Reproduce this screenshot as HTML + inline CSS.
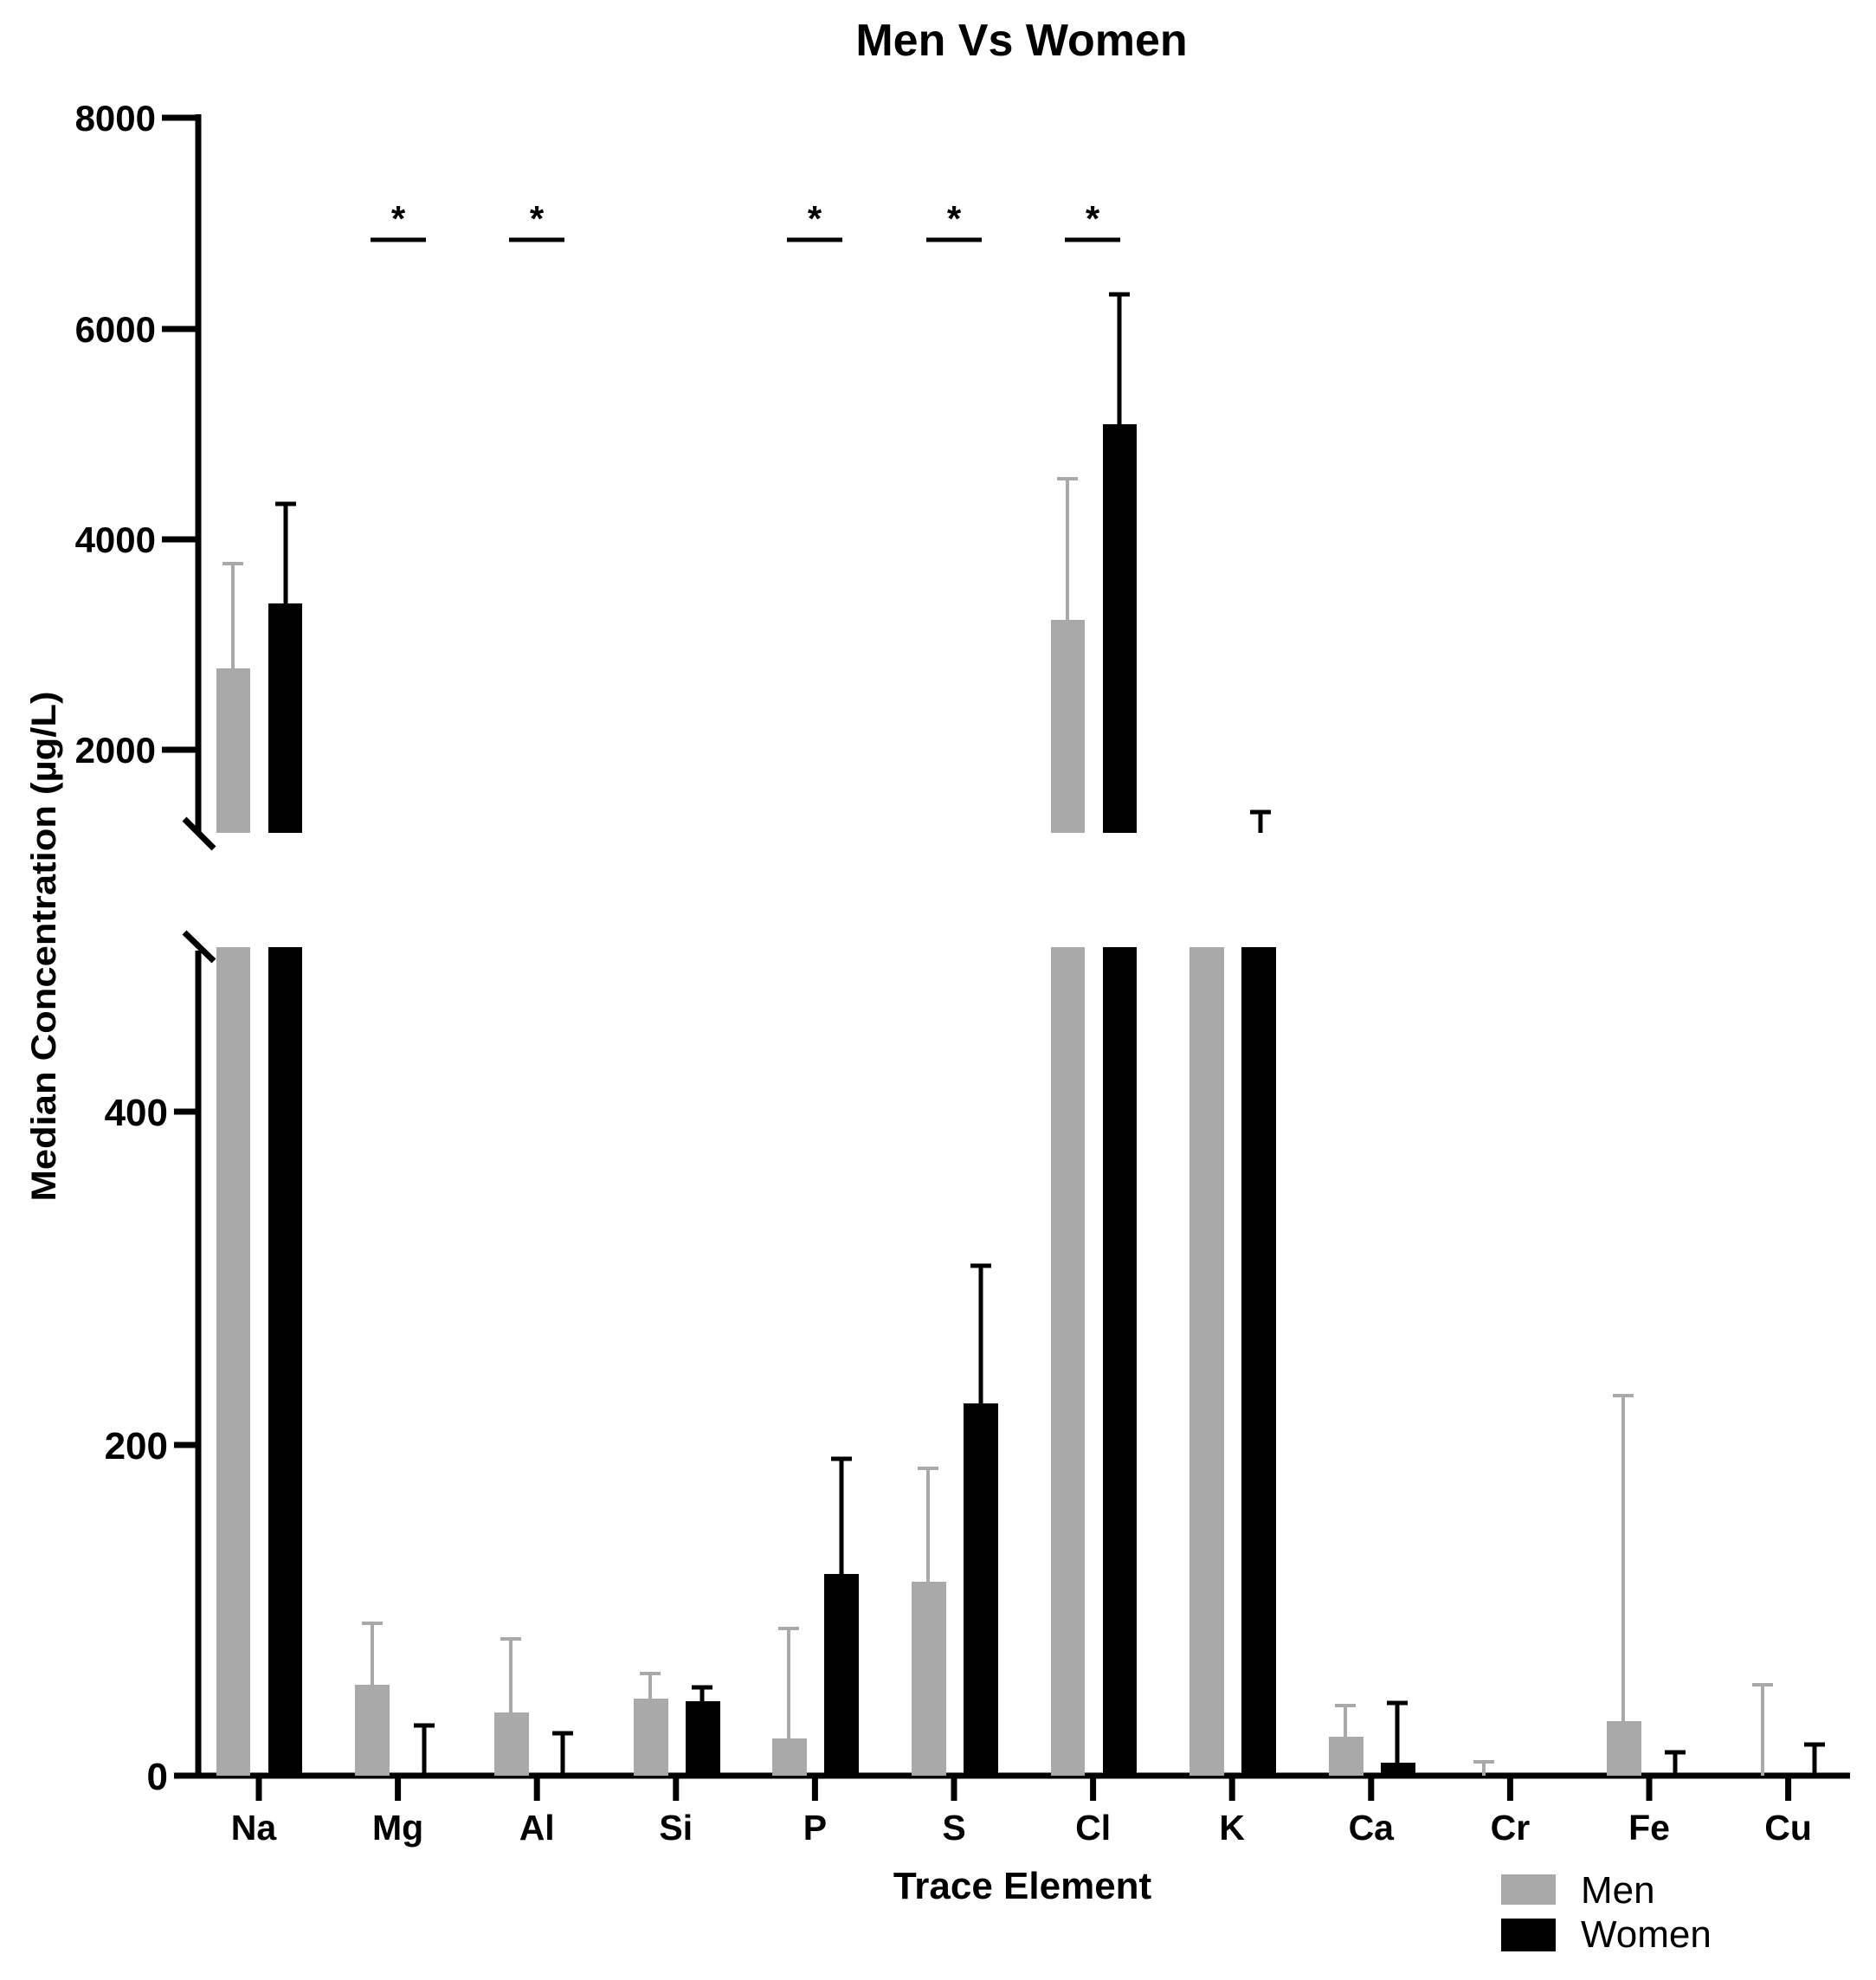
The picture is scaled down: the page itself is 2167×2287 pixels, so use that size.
<!DOCTYPE html>
<html><head><meta charset="utf-8"><style>html,body{margin:0;padding:0;background:#fff}svg{display:block}</style></head>
<body>
<svg width="2167" height="2287" viewBox="0 0 2167 2287" xmlns="http://www.w3.org/2000/svg" font-family="Liberation Sans, Arial, sans-serif">
<rect width="2167" height="2287" fill="#fff"/>
<text x="1180" y="64" font-size="52" font-weight="bold" text-anchor="middle">Men Vs Women</text>
<text transform="translate(64,1093) rotate(-90)" font-size="40" font-weight="bold" text-anchor="middle" textLength="589" lengthAdjust="spacingAndGlyphs">Median Concentration (µg/L)</text>
<g stroke="#000" stroke-width="7" fill="none">
<line x1="229" y1="132" x2="229" y2="963"/>
<line x1="229" y1="1098" x2="229" y2="2054"/>
<line x1="187" y1="136" x2="232" y2="136"/>
<line x1="187" y1="380" x2="229" y2="380"/>
<line x1="187" y1="623" x2="229" y2="623"/>
<line x1="187" y1="866" x2="229" y2="866"/>
<line x1="201" y1="1284" x2="229" y2="1284"/>
<line x1="201" y1="1669" x2="229" y2="1669"/>
<line x1="201" y1="2051" x2="2137" y2="2051"/>
<line x1="213" y1="946" x2="247" y2="980"/>
<line x1="213" y1="1077" x2="247" y2="1110"/>
</g>
<g font-size="42" font-weight="bold" text-anchor="end">
<text x="180" y="151">8000</text>
<text x="180" y="395">6000</text>
<text x="180" y="638">4000</text>
<text x="180" y="881">2000</text>
</g>
<g font-size="44" font-weight="bold" text-anchor="end">
<text x="194" y="1300">400</text>
<text x="194" y="1685">200</text>
<text x="194" y="2067">0</text>
</g>
<g stroke="#000" stroke-width="7">
<line x1="299" y1="2051" x2="299" y2="2080"/><line x1="459.6" y1="2051" x2="459.6" y2="2080"/><line x1="620.2" y1="2051" x2="620.2" y2="2080"/><line x1="780.8" y1="2051" x2="780.8" y2="2080"/><line x1="941.4" y1="2051" x2="941.4" y2="2080"/><line x1="1102" y1="2051" x2="1102" y2="2080"/><line x1="1262.6" y1="2051" x2="1262.6" y2="2080"/><line x1="1423.2" y1="2051" x2="1423.2" y2="2080"/><line x1="1583.8" y1="2051" x2="1583.8" y2="2080"/><line x1="1744.4" y1="2051" x2="1744.4" y2="2080"/><line x1="1905" y1="2051" x2="1905" y2="2080"/><line x1="2065.6" y1="2051" x2="2065.6" y2="2080"/>
</g>
<g font-size="41" font-weight="bold" text-anchor="middle">
<text x="293" y="2125">Na</text><text x="459.6" y="2125">Mg</text><text x="620.2" y="2125">Al</text><text x="780.8" y="2125">Si</text><text x="941.4" y="2125">P</text><text x="1102" y="2125">S</text><text x="1262.6" y="2125">Cl</text><text x="1423.2" y="2125">K</text><text x="1583.8" y="2125">Ca</text><text x="1744.4" y="2125">Cr</text><text x="1905" y="2125">Fe</text><text x="2065.6" y="2125">Cu</text>
</g>
<text x="1181" y="2193" font-size="44" font-weight="bold" text-anchor="middle">Trace Element</text>
<rect x="1734" y="2165" width="63" height="35" fill="#a9a9a9"/>
<rect x="1734" y="2216" width="63" height="38" fill="#000"/>
<text x="1826" y="2198" font-size="44">Men</text>
<text x="1826" y="2249" font-size="44">Women</text>
<g stroke="#000" stroke-width="5"><line x1="428" y1="277" x2="492" y2="277"/><line x1="588" y1="277" x2="652" y2="277"/><line x1="909" y1="277" x2="973" y2="277"/><line x1="1070" y1="277" x2="1134" y2="277"/><line x1="1230" y1="277" x2="1294" y2="277"/></g>
<g font-size="42" font-weight="bold" text-anchor="middle"><text x="460" y="267">*</text><text x="620" y="267">*</text><text x="941" y="267">*</text><text x="1102" y="267">*</text><text x="1262" y="267">*</text></g>
<g fill="#a9a9a9"><rect x="250" y="772" width="39" height="190"/><rect x="1214" y="716" width="39" height="246"/></g>
<g fill="#000"><rect x="310" y="697" width="39" height="265"/><rect x="1274" y="490" width="39" height="472"/></g>
<g stroke="#a9a9a9" stroke-width="4"><line x1="269" y1="651" x2="269" y2="772"/><line x1="257" y1="651" x2="281" y2="651"/><line x1="1233" y1="553" x2="1233" y2="716"/><line x1="1221" y1="553" x2="1245" y2="553"/></g>
<g stroke="#000" stroke-width="5"><line x1="330" y1="582" x2="330" y2="697"/><line x1="318" y1="582" x2="342" y2="582"/><line x1="1293" y1="340" x2="1293" y2="490"/><line x1="1281" y1="340" x2="1305" y2="340"/><line x1="1456" y1="938" x2="1456" y2="962"/><line x1="1444" y1="938" x2="1468" y2="938"/></g>
<g fill="#a9a9a9">
<rect x="250" y="1094" width="39" height="957"/>
<rect x="410" y="1946" width="40" height="105"/>
<rect x="571" y="1978" width="40" height="73"/>
<rect x="732" y="1962" width="40" height="89"/>
<rect x="892" y="2008" width="40" height="43"/>
<rect x="1053" y="1827" width="40" height="224"/>
<rect x="1214" y="1094" width="39" height="957"/>
<rect x="1374" y="1094" width="40" height="957"/>
<rect x="1535" y="2006" width="40" height="45"/>
<rect x="1856" y="1988" width="40" height="63"/>
</g>
<g fill="#000">
<rect x="310" y="1094" width="39" height="957"/>
<rect x="792" y="1965" width="40" height="86"/>
<rect x="952" y="1818" width="40" height="233"/>
<rect x="1113" y="1621" width="40" height="430"/>
<rect x="1274" y="1094" width="39" height="957"/>
<rect x="1434" y="1094" width="40" height="957"/>
<rect x="1595" y="2036" width="40" height="15"/>
</g>
<g stroke="#a9a9a9" stroke-width="4">
<path d="M430 1875V1946M418 1875H442"/>
<path d="M590 1893V1978M578 1893H602"/>
<path d="M751 1933V1962M739 1933H763"/>
<path d="M911 1881V2008M899 1881H923"/>
<path d="M1072 1696V1827M1060 1696H1084"/>
<path d="M1554 1970V2006M1542 1970H1566"/>
<path d="M1714 2035V2051M1702 2035H1726"/>
<path d="M1875 1612V1988M1863 1612H1887"/>
<path d="M2036 1946V2051M2024 1946H2048"/>
</g>
<g stroke="#000" stroke-width="5">
<path d="M490 1993V2051M478 1993H502"/>
<path d="M650 2002V2051M638 2002H662"/>
<path d="M811 1949V1965M799 1949H823"/>
<path d="M972 1685V1818M960 1685H984"/>
<path d="M1133 1462V1621M1121 1462H1145"/>
<path d="M1614 1967V2036M1602 1967H1626"/>
<path d="M1935 2024V2051M1923 2024H1947"/>
<path d="M2096 2015V2051M2084 2015H2108"/>
</g>
</svg>
</body></html>
